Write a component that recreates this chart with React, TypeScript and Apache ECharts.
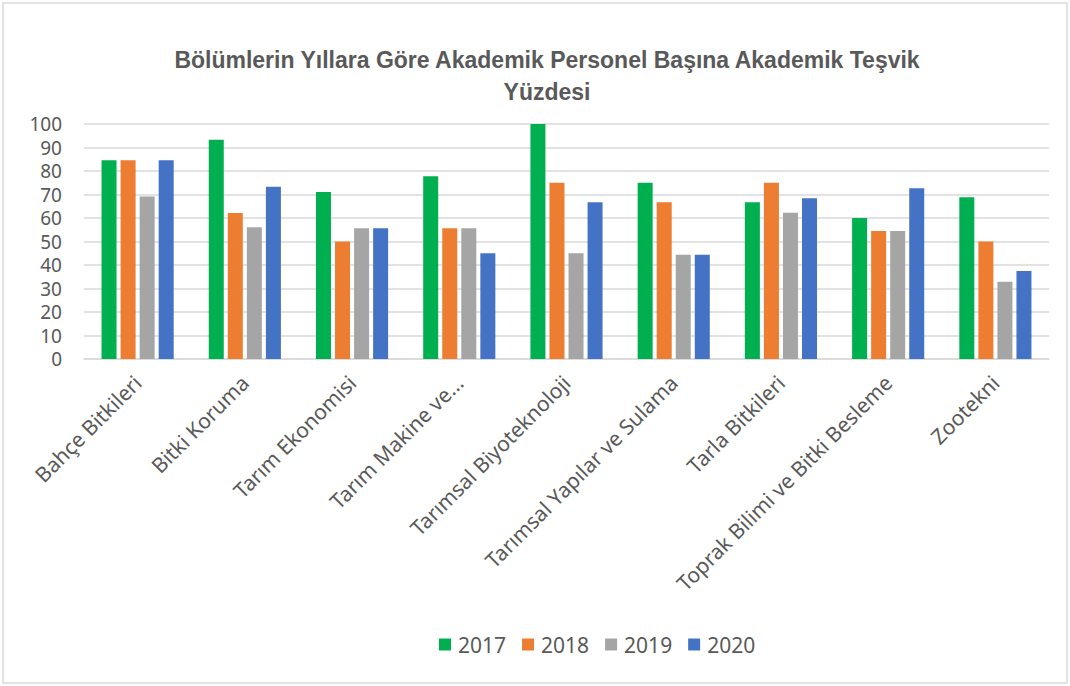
import React, { useEffect, useRef } from "react";
import * as echarts from "echarts";

const titleLine1 = "Bölümlerin Yıllara Göre Akademik Personel Başına Akademik Teşvik";
const titleLine2 = "Yüzdesi";
const categories = [
  "Bahçe Bitkileri",
  "Bitki Koruma",
  "Tarım Ekonomisi",
  "Tarım Makine ve...",
  "Tarımsal Biyoteknoloji",
  "Tarımsal Yapılar ve Sulama",
  "Tarla Bitkileri",
  "Toprak Bilimi ve Bitki Besleme",
  "Zootekni",
];
const years = ["2017", "2018", "2019", "2020"];
const v2017 = [84.6, 93.3, 71.1, 77.8, 100, 75, 66.7, 60, 68.8];
const v2018 = [84.6, 62.1, 50, 55.6, 75, 66.7, 75, 54.5, 50];
const v2019 = [69.2, 56.1, 55.6, 55.6, 45, 44.4, 62.2, 54.5, 32.9];
const v2020 = [84.6, 73.3, 55.6, 45, 66.7, 44.4, 68.4, 72.7, 37.5];
const colors = ["#00b050", "#ed7d31", "#a5a5a5", "#4472c4"];

export default function App() {
  const ref = useRef<HTMLDivElement>(null);
  useEffect(() => {
    document.body.style.margin = "0";
    const chart = echarts.init(ref.current!, null, { renderer: "svg" });
    const seriesData = [v2017, v2018, v2019, v2020];
    const titleFont = {
      fontFamily: "Liberation Sans",
      fontWeight: "bold",
      fontSize: 23,
      fill: "#595959",
      align: "center",
      verticalAlign: "middle",
    };
    chart.setOption({
      animation: false,
      color: colors,
      graphic: [
        {
          type: "rect",
          shape: { x: 3, y: 3, width: 1064, height: 680 },
          style: { fill: "none", stroke: "#d9d9d9", lineWidth: 1.5 },
        },
        { type: "text", x: 547, y: 60, style: { text: titleLine1, ...titleFont } },
        { type: "text", x: 547, y: 92, style: { text: titleLine2, ...titleFont } },
      ],
      legend: {
        data: years,
        bottom: 26,
        left: 434,
        itemWidth: 12,
        itemHeight: 12,
        itemGap: 16,
        icon: "rect",
        textStyle: { fontFamily: "Noto Sans", fontSize: 21, color: "#595959", padding: [0, 0, 0, 2] },
      },
      grid: { left: 84, right: 21, top: 124, bottom: 327 },
      xAxis: {
        type: "category",
        data: categories,
        axisLine: { lineStyle: { color: "#d9d9d9", width: 1.5 } },
        axisTick: { show: false },
        axisLabel: {
          rotate: 45,
          interval: 0,
          margin: 20,
          fontFamily: "Noto Sans",
          fontSize: 21,
          color: "#595959",
        },
      },
      yAxis: {
        type: "value",
        min: 0,
        max: 100,
        interval: 10,
        axisLine: { show: false },
        axisTick: { show: false },
        splitLine: { lineStyle: { color: "#d9d9d9", width: 1.5 } },
        axisLabel: {
          margin: 22,
          fontFamily: "Noto Sans",
          fontSize: 19,
          color: "#595959",
        },
      },
      series: years.map((y, i) => ({
        name: y,
        type: "bar",
        data: seriesData[i],
        barWidth: 15,
        barGap: "27%",
        itemStyle: { color: colors[i] },
      })),
    });
    return () => chart.dispose();
  }, []);
  return <div ref={ref} style={{ width: 1070, height: 686 }} />;
}
